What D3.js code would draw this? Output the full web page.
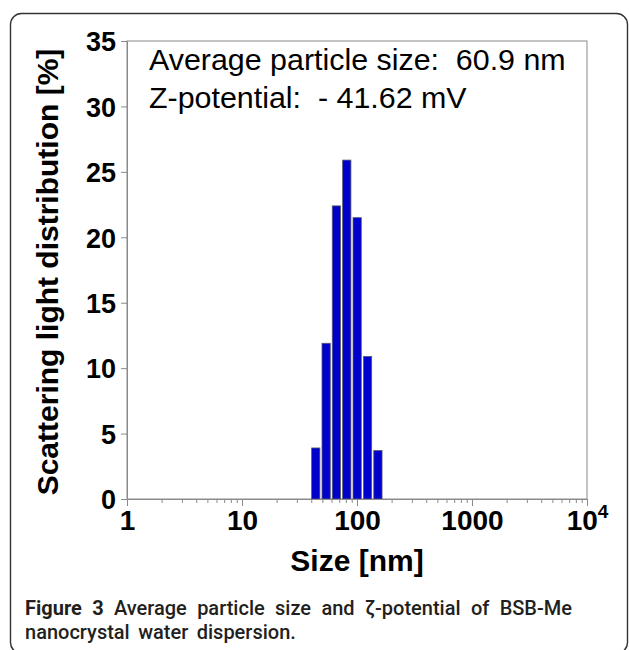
<!DOCTYPE html>
<html>
<head>
<meta charset="utf-8">
<script src="https://cdn.jsdelivr.net/npm/d3@7"></script>
<style>
  html, body { margin: 0; padding: 0; background: #fff; }
  svg { display: block; }
  text { white-space: pre; }
</style>
</head>
<body>
<svg id="fig" width="629" height="650"></svg>
<script>
// Particle size distribution (DLS), BSB-Me nanocrystals
const binSizes = [43.8, 53.9, 66.2, 81.5, 100.3, 123.5, 152.0];   // nm, bin centres
const binPercent = [3.9, 11.9, 22.4, 25.9, 21.5, 10.9, 3.7];       // scattering light %
const yTicks = [0, 5, 10, 15, 20, 25, 30, 35];
const xMajorTicks = [1, 10, 100, 1000, 10000];
const xTickLabels = ["1", "10", "100", "1000", "10^4"];
const infoLines = ["Average particle size:  60.9 nm", "Z-potential:  - 41.62 mV"];
const captionBold = "Figure 3";
const captionLine1 = " Average particle size and \u03B6-potential of BSB-Me";
const captionLine2 = "nanocrystal water dispersion.";

const svg = d3.select("#fig");
const frame = { left: 127, right: 587, top: 41, bottom: 499 };
const axisGray = "#8a8a8a";
const sans = "'Liberation Sans', Arial, sans-serif";

// Outer rounded panel
svg.append("rect")
  .attr("x", 10.5).attr("y", 13.5)
  .attr("width", 617).attr("height", 640)
  .attr("rx", 11)
  .attr("fill", "none").attr("stroke", "#333").attr("stroke-width", 1.4);

const x = d3.scaleLog().domain([1, 10000]).range([frame.left, frame.right]);
const y = d3.scaleLinear().domain([0, 35]).range([frame.bottom, frame.top]);

// Plot frame
svg.append("rect")
  .attr("x", frame.left).attr("y", frame.top)
  .attr("width", frame.right - frame.left).attr("height", frame.bottom - frame.top)
  .attr("fill", "none").attr("stroke", axisGray).attr("stroke-width", 1);

// Bars: each bin drawn on the log axis, 80% of the bin spacing wide
const binRatio = 1.23;
const half = Math.pow(binRatio, 0.4);
svg.append("g").selectAll("rect")
  .data(binSizes.map((s, i) => ({ s, v: binPercent[i] })))
  .join("rect")
  .attr("x", d => x(d.s / half))
  .attr("width", d => x(d.s * half) - x(d.s / half))
  .attr("y", d => y(d.v))
  .attr("height", d => y(0) - y(d.v))
  .attr("fill", "#0000cc")
  .attr("stroke", "#5a5a6a").attr("stroke-width", 0.8);

// Minor x ticks
const minor = [];
for (let p = 0; p < 4; p++) for (let k = 2; k <= 9; k++) minor.push(k * Math.pow(10, p));
const xMinorAxis = d3.axisBottom(x).tickValues(minor).tickSize(4).tickFormat("");
const gxm = svg.append("g").attr("transform", `translate(0,${frame.bottom})`).call(xMinorAxis);
gxm.select(".domain").remove();
gxm.selectAll("line").attr("stroke", axisGray);

// Major x ticks with labels
const xAxis = d3.axisBottom(x).tickValues(xMajorTicks).tickSize(7).tickPadding(6)
  .tickFormat((d, i) => xTickLabels[i]);
const gx = svg.append("g").attr("transform", `translate(0,${frame.bottom})`).call(xAxis);
gx.select(".domain").attr("stroke", axisGray);
gx.selectAll("line").attr("stroke", axisGray);
gx.selectAll("text")
  .attr("font-family", sans).attr("font-weight", "bold").attr("font-size", 28)
  .attr("fill", "#000").attr("dy", "0.71em").attr("y", 11);
gx.selectAll("text").filter((d, i) => xTickLabels[i].includes("^")).each(function (d) {
  const [base, exp] = xTickLabels[xMajorTicks.indexOf(d)].split("^");
  const t = d3.select(this).text(null);
  t.append("tspan").text(base);
  t.append("tspan").attr("font-size", 19).attr("dy", "-0.62em").text(exp);
});

// Y axis
const yAxis = d3.axisLeft(y).tickValues(yTicks).tickSize(6).tickPadding(5).tickFormat(d3.format("d"));
const gy = svg.append("g").attr("transform", `translate(${frame.left},0)`).call(yAxis);
gy.select(".domain").attr("stroke", axisGray);
gy.selectAll("line").attr("stroke", axisGray);
gy.selectAll("text")
  .attr("font-family", sans).attr("font-weight", "bold").attr("font-size", 27)
  .attr("fill", "#000").attr("dy", "0.36em");

// Axis titles
svg.append("text")
  .attr("transform", `translate(58,${(frame.top + frame.bottom) / 2 + 2}) rotate(-90)`)
  .attr("text-anchor", "middle")
  .attr("font-family", sans).attr("font-weight", "bold").attr("font-size", 30)
  .text("Scattering light distribution [%]");

svg.append("text")
  .attr("x", (frame.left + frame.right) / 2).attr("y", 571)
  .attr("text-anchor", "middle")
  .attr("font-family", sans).attr("font-weight", "bold").attr("font-size", 30)
  .text("Size [nm]");

// Measurement summary
svg.append("g").selectAll("text")
  .data(infoLines)
  .join("text")
  .attr("x", 149).attr("y", (d, i) => 70 + i * 38)
  .attr("font-family", sans).attr("font-size", 30.4).attr("fill", "#000")
  .text(d => d);

// Caption
const capFont = "Roboto, 'Noto Sans', sans-serif";
const capSize = 20;
const capLeft = 25;
const cap1 = svg.append("text")
  .attr("x", capLeft).attr("y", 615)
  .attr("font-family", capFont).attr("font-size", capSize).attr("fill", "#231f20");
cap1.append("tspan").attr("font-weight", 700).text(captionBold);
cap1.append("tspan").attr("font-weight", 500).text(captionLine1);
// spread words so the first line is justified to the column width
const natural = cap1.node().getComputedTextLength();
const target = 547;
const gaps = (captionBold + captionLine1).split(" ").length - 1;
cap1.attr("word-spacing", Math.max(0, (target - natural) / gaps));

svg.append("text")
  .attr("x", capLeft).attr("y", 639)
  .attr("font-family", capFont).attr("font-size", capSize).attr("font-weight", 500)
  .attr("fill", "#231f20").attr("word-spacing", 3.5)
  .text(captionLine2);
</script>
</body>
</html>
